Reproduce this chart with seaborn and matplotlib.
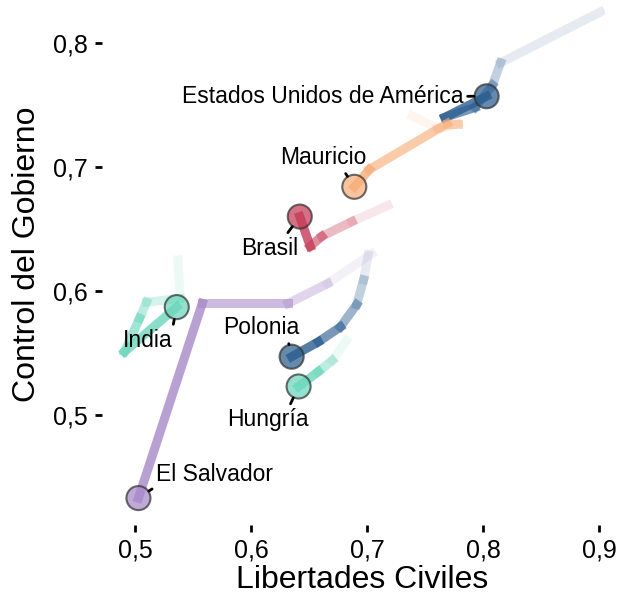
import numpy as np
import pandas as pd
import matplotlib
matplotlib.use("Agg")
import matplotlib.pyplot as plt
from matplotlib.ticker import FuncFormatter
import seaborn as sns

# trayectorias, de la observación más antigua a la más reciente
paises = ["Estados Unidos de América", "Mauricio", "Brasil", "India",
          "Polonia", "Hungría", "El Salvador"]

eeuu_lib = [0.901, 0.815, 0.808, 0.793, 0.767, 0.803]
eeuu_ctrl = [0.825, 0.784, 0.766, 0.748, 0.740, 0.757]

mauricio_lib = [0.739, 0.761, 0.778, 0.769, 0.702, 0.689]
mauricio_ctrl = [0.741, 0.731, 0.735, 0.735, 0.698, 0.684]

brasil_lib = [0.718, 0.687, 0.661, 0.651, 0.642]
brasil_ctrl = [0.669, 0.656, 0.644, 0.636, 0.660]

india_lib = [0.537, 0.539, 0.510, 0.504, 0.491, 0.536]
india_ctrl = [0.625, 0.594, 0.591, 0.578, 0.551, 0.587]

polonia_lib = [0.701, 0.697, 0.691, 0.677, 0.658, 0.635]
polonia_ctrl = [0.629, 0.609, 0.589, 0.571, 0.559, 0.547]

hungria_lib = [0.682, 0.670, 0.658, 0.641]
hungria_ctrl = [0.560, 0.544, 0.535, 0.523]

salvador_lib = [0.704, 0.666, 0.632, 0.558, 0.503]
salvador_ctrl = [0.630, 0.606, 0.590, 0.590, 0.433]

colores = ["#2b5d8f", "#f7ad78", "#c63a55", "#6ad6bb",
           "#2b5d8f", "#6ad6bb", "#a688c8"]

# posicion de cada etiqueta respecto al punto (en puntos) y punto de arranque de la guia
etiq_offset = [(-17, 0), (-22, 21), (-22, -23), (-21, -24), (-22, 21), (-22, -24), (13, 17)]
etiq_ha = ["right", "center", "center", "center", "center", "center", "left"]
etiq_relpos = [(1, 0.5), (0.72, 0), (0.77, 1), (1, 1), (0.85, 0), (0.75, 1), (0, 0)]

trayectorias = [
    (eeuu_lib, eeuu_ctrl),
    (mauricio_lib, mauricio_ctrl),
    (brasil_lib, brasil_ctrl),
    (india_lib, india_ctrl),
    (polonia_lib, polonia_ctrl),
    (hungria_lib, hungria_ctrl),
    (salvador_lib, salvador_ctrl),
]

sns.set_theme(style="white")
plt.rcParams["font.family"] = ["Liberation Sans", "DejaVu Sans"]
plt.rcParams["text.color"] = "black"
plt.rcParams["axes.labelcolor"] = "black"
plt.rcParams["xtick.color"] = "black"
plt.rcParams["ytick.color"] = "black"

fig = plt.figure(figsize=(6.17, 5.98), dpi=100)
ax = fig.add_axes([102 / 617, 73 / 598, 503 / 617, 520 / 598])

# estelas: cada tramo con opacidad creciente
for (xs, ys), color in zip(trayectorias, colores):
    n = len(xs) - 1
    alfas = np.linspace(0.12, 0.8, n)
    for i in range(n):
        tramo = pd.DataFrame({"x": xs[i:i + 2], "y": ys[i:i + 2]})
        sns.lineplot(data=tramo, x="x", y="y", sort=False, estimator=None,
                     color=color, alpha=alfas[i], linewidth=6.5,
                     solid_capstyle="projecting", ax=ax)

# punto actual de cada pais
actual = pd.DataFrame({
    "pais": paises,
    "lib": [t[0][-1] for t in trayectorias],
    "ctrl": [t[1][-1] for t in trayectorias],
})
sns.scatterplot(data=actual, x="lib", y="ctrl", hue="pais",
                palette=dict(zip(paises, colores)), s=300, alpha=0.72,
                edgecolor="#333333", linewidth=1.5, legend=False, zorder=5, ax=ax)

for i, fila in actual.iterrows():
    ax.annotate(fila["pais"], xy=(fila["lib"], fila["ctrl"]),
                xytext=etiq_offset[i], textcoords="offset points",
                ha=etiq_ha[i], va="center", fontsize=16.5, color="black",
                arrowprops=dict(arrowstyle="-", color="black", lw=2,
                                shrinkA=1, shrinkB=9, relpos=etiq_relpos[i]),
                zorder=6)

ax.set_xlim(0.4716, 0.905)
ax.set_ylim(0.4113, 0.8306)
ax.set_xticks([0.5, 0.6, 0.7, 0.8, 0.9])
ax.set_yticks([0.5, 0.6, 0.7, 0.8])
coma = FuncFormatter(lambda v, p: f"{v:.1f}".replace(".", ","))
ax.xaxis.set_major_formatter(coma)
ax.yaxis.set_major_formatter(coma)
ax.tick_params(axis="both", which="major", direction="out", length=5, width=2,
               color="black", labelcolor="black", labelsize=18, pad=5,
               bottom=True, left=True)
for lado in ax.spines.values():
    lado.set_visible(False)

ax.set_xlabel("Libertades Civiles", fontsize=23)
ax.set_ylabel("Control del Gobierno", fontsize=23)
ax.xaxis.set_label_coords(0.517, -0.077)
ax.yaxis.set_label_coords(-0.119, 0.52)

fig.savefig("out.png", dpi=100)
